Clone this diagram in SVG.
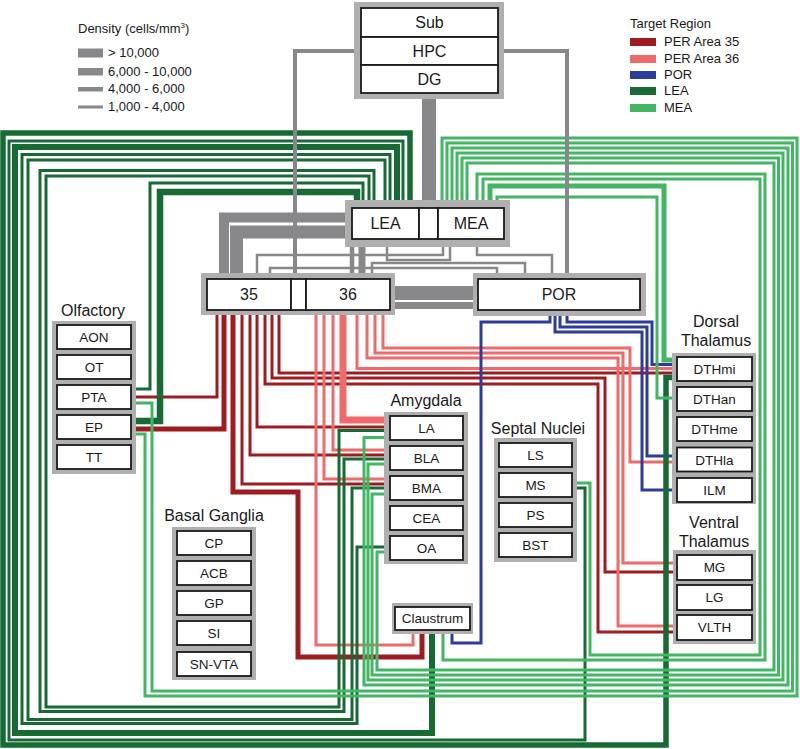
<svg xmlns="http://www.w3.org/2000/svg" width="800" height="749" viewBox="0 0 800 749">
<style>
text{font-family:"Liberation Sans",Arial,sans-serif;fill:#1a1a1a}
.halo{fill:#afafaf}
.box{fill:#fff;stroke:#1a1a1a;stroke-width:1.8}
.lbl{font-size:13.5px;text-anchor:middle}
.big{font-size:16px;text-anchor:middle}
.grp{font-size:16px;text-anchor:middle}
.leg{font-size:13px}
path{fill:none;stroke-width:3}
.r35{stroke:#9e1c20}
.r36{stroke:#f06a6a}
.por{stroke:#2b3c9a}
.lea{stroke:#176a34}
.mea{stroke:#43b663}
.gr{stroke:#88888b}
.blob{fill:#88888b}
</style>

<g id="connectors">
<g id="per35-lines">
<path class="r35" d="M217,310 V397 H130"/>
<path class="r35" style="stroke-width:5" d="M224,310 V429 H130"/>
<path class="r35" style="stroke-width:5" d="M233,310 V492 H298 V657 H422 V630"/>
<path class="r35" d="M242,310 V484 H390"/>
<path class="r35" d="M250,310 V455 H390"/>
<path class="r35" d="M257,310 V427 H390"/>
<path class="r35" d="M265,310 V384 H598 V632 H677"/>
<path class="r35" d="M272,310 V378 H605 V572 H677"/>
<path class="r35" d="M279,310 V373 H677"/>
</g>
<g id="per36-lines">
<path class="r36" d="M316,310 V645 H413 V630"/>
<path class="r36" d="M324,310 V479 H390"/>
<path class="r36" d="M333,310 V450 H390"/>
<path class="r36" style="stroke-width:7" d="M343,310 V420 H390"/>
<path class="r36" d="M357,310 V368.5 H677"/>
<path class="r36" d="M367,310 V358 H618 V626 H677"/>
<path class="r36" d="M375,310 V353 H623 V563 H677"/>
<path class="r36" d="M383,310 V348 H630 V462 H677"/>
</g>
<g id="por-lines">
<path class="por" d="M550,310 V322 H481 V643 H452 V630"/>
<path class="por" d="M567,310 V322 H652 V364.5 H677"/>
<path class="por" d="M560,310 V327 H647 V456 H677"/>
<path class="por" d="M555,310 V332 H642 V490 H677"/>
</g>
<g id="lea-lines">
<path class="lea" style="stroke-width:6.5" d="M357,208 V192 H160 V421 H130"/>
<path class="lea" d="M363,208 V183 H150 V389 H130"/>
<path class="lea" d="M369,208 V176 H46 V707 H339 V430.5 H390"/>
<path class="lea" d="M374,208 V170.5 H40 V711.5 H344 V459 H390"/>
<path class="lea" d="M385,208 V160 H28 V719.5 H352 V488 H390"/>
<path class="lea" d="M390,208 V154.5 H22 V723.5 H357 V547 H390"/>
<path class="lea" style="stroke-width:6" d="M397,208 V147 H15 V733 H432 V630"/>
<path class="lea" d="M403,208 V141 H9 V740 H585 V488 H572"/>
<path class="lea" style="stroke-width:5.5" d="M410,208 V133 H3 V745 H666 V377.5 H677"/>
</g>
<g id="mea-lines">
<path class="mea" d="M442,208 V138 H797 V696 H145 V434 H130"/>
<path class="mea" d="M447,208 V143 H792.5 V691 H152 V403 H130"/>
<path class="mea" d="M452,208 V148 H788 V685 H364 V437.5 H390"/>
<path class="mea" d="M457,208 V153 H783 V680 H368 V464 H390"/>
<path class="mea" d="M462,208 V158 H778.5 V675 H372 V494 H390"/>
<path class="mea" d="M467,208 V163 H774 V670 H377 V552 H390"/>
<path class="mea" d="M477,208 V174 H765 V660 H443 V630"/>
<path class="mea" d="M483,208 V179 H760 V655 H590 V483 H572"/>
<path class="mea" style="stroke-width:5" d="M490,208 V186 H664 V360 H677"/>
<path class="mea" d="M497,208 V197 H657 V398 H677"/>
</g>
<g id="density-lines">
<path class="gr" style="stroke-width:14" d="M429,99 V208"/>
<path class="gr" style="stroke-width:4" d="M354,51 H295 V279"/>
<path class="gr" style="stroke-width:4" d="M504,51 H567 V279"/>
<path class="gr" style="stroke-width:10" d="M357,217.5 H224 V273"/>
<circle class="blob" cx="357" cy="217.5" r="6.5"/>
<path class="gr" style="stroke-width:13" d="M352,232 H236.5 V282"/>
<circle class="blob" cx="236.5" cy="282" r="7.5"/>
<path class="gr" style="stroke-width:7" d="M362,279 V237"/>
<circle class="blob" cx="362" cy="237" r="5.5"/>
<path class="gr" style="stroke-width:4.5" d="M352,247 V282"/>
<circle class="blob" cx="352" cy="282" r="4.5"/>
<path class="gr" style="stroke-width:14" d="M390,293 H485"/>
<circle class="blob" cx="485" cy="293" r="8"/>
<path class="gr" style="stroke-width:7" d="M390,305.5 H478"/>
<path class="gr" style="stroke-width:2.5" d="M257,279 V255 H443 V239"/>
<path class="gr" style="stroke-width:2.5" d="M270,279 V268 H497 V279"/>
<path class="gr" style="stroke-width:2.5" d="M372,279 V263 H525 V279"/>
<path class="gr" style="stroke-width:2.5" d="M387,239 V260 H450 V239"/>
<path class="gr" style="stroke-width:2.5" d="M477,239 V255 H552 V279"/>
</g>
</g>

<g id="legend-density">
<text class="leg" x="78" y="33">Density (cells/mm<tspan dy="-5" font-size="8">3</tspan><tspan dy="5">)</tspan></text>
<rect x="78" y="48.5" width="25" height="9" fill="#88888b"/>
<rect x="78" y="68" width="25" height="7.5" fill="#88888b"/>
<rect x="78" y="87" width="25" height="4.5" fill="#88888b"/>
<rect x="78" y="105.5" width="25" height="3" fill="#88888b"/>
<text class="leg" x="108" y="57">&gt; 10,000</text>
<text class="leg" x="108" y="75.5">6,000 - 10,000</text>
<text class="leg" x="108" y="93">4,000 - 6,000</text>
<text class="leg" x="108" y="111">1,000 - 4,000</text>
</g>

<g id="legend-target">
<text class="leg" x="630" y="28">Target Region</text>
<rect x="630" y="38" width="26" height="8" fill="#9e1c20"/>
<rect x="630" y="55" width="26" height="8" fill="#f06a6a"/>
<rect x="630" y="71" width="26" height="8" fill="#2b3c9a"/>
<rect x="630" y="87" width="26" height="8" fill="#176a34"/>
<rect x="630" y="104" width="26" height="8" fill="#43b663"/>
<text class="leg" x="664" y="46">PER Area 35</text>
<text class="leg" x="664" y="63">PER Area 36</text>
<text class="leg" x="664" y="79">POR</text>
<text class="leg" x="664" y="95">LEA</text>
<text class="leg" x="664" y="112">MEA</text>
</g>

<g id="hippocampus">
<rect class="halo" x="354" y="2" width="150" height="97"/>
<g id="node-sub"><rect class="box" x="361" y="8" width="137" height="29"/><text class="big" x="429.5" y="28">Sub</text></g>
<g id="node-hpc"><rect class="box" x="361" y="37" width="137" height="28"/><text class="big" x="429.5" y="57">HPC</text></g>
<g id="node-dg"><rect class="box" x="361" y="65" width="137" height="28"/><text class="big" x="429.5" y="85">DG</text></g>
</g>

<g id="entorhinal">
<rect class="halo" x="345" y="200" width="165" height="47"/>
<g id="node-lea"><rect class="box" x="352" y="208" width="67" height="31"/><text class="big" x="385.5" y="229">LEA</text></g>
<g id="node-ec-gap"><rect class="box" x="419" y="208" width="19" height="31"/></g>
<g id="node-mea"><rect class="box" x="438" y="208" width="66" height="31"/><text class="big" x="471" y="229">MEA</text></g>
</g>

<g id="perirhinal">
<rect class="halo" x="201" y="273" width="194" height="42"/>
<g id="node-35"><rect class="box" x="207" y="279" width="84" height="31"/><text class="big" x="249" y="300">35</text></g>
<g id="node-per-gap"><rect class="box" x="291" y="279" width="15" height="31"/></g>
<g id="node-36"><rect class="box" x="306" y="279" width="84" height="31"/><text class="big" x="348" y="300">36</text></g>
</g>

<g id="node-por">
<rect class="halo" x="473" y="273" width="173" height="43"/>
<rect class="box" x="478" y="279" width="162" height="31"/>
<text class="big" x="559" y="300">POR</text>
</g>

<g id="olfactory">
<text class="grp" x="93" y="316">Olfactory</text>
<rect class="halo" x="52" y="321" width="84" height="153"/>
<g id="node-aon"><rect class="box" x="57" y="325" width="74" height="24"/><text class="lbl" x="94" y="342">AON</text></g>
<g id="node-ot"><rect class="box" x="57" y="355" width="74" height="24"/><text class="lbl" x="94" y="372">OT</text></g>
<g id="node-pta"><rect class="box" x="57" y="385" width="74" height="24"/><text class="lbl" x="94" y="402">PTA</text></g>
<g id="node-ep"><rect class="box" x="57" y="415" width="74" height="24"/><text class="lbl" x="94" y="432">EP</text></g>
<g id="node-tt"><rect class="box" x="57" y="445" width="74" height="24"/><text class="lbl" x="94" y="462">TT</text></g>
</g>

<g id="amygdala">
<text class="grp" x="426" y="406">Amygdala</text>
<rect class="halo" x="384" y="412" width="84" height="152"/>
<g id="node-la"><rect class="box" x="390" y="416" width="73" height="24"/><text class="lbl" x="426.5" y="433">LA</text></g>
<g id="node-bla"><rect class="box" x="390" y="446" width="73" height="24"/><text class="lbl" x="426.5" y="463">BLA</text></g>
<g id="node-bma"><rect class="box" x="390" y="476" width="73" height="24"/><text class="lbl" x="426.5" y="493">BMA</text></g>
<g id="node-cea"><rect class="box" x="390" y="506" width="73" height="24"/><text class="lbl" x="426.5" y="523">CEA</text></g>
<g id="node-oa"><rect class="box" x="390" y="536" width="73" height="24"/><text class="lbl" x="426.5" y="553">OA</text></g>
</g>

<g id="septal">
<text class="grp" x="538" y="434">Septal Nuclei</text>
<rect class="halo" x="494" y="438" width="83" height="124"/>
<g id="node-ls"><rect class="box" x="499" y="443" width="73" height="24"/><text class="lbl" x="535.5" y="460">LS</text></g>
<g id="node-ms"><rect class="box" x="499" y="473" width="73" height="24"/><text class="lbl" x="535.5" y="490">MS</text></g>
<g id="node-ps"><rect class="box" x="499" y="503" width="73" height="24"/><text class="lbl" x="535.5" y="520">PS</text></g>
<g id="node-bst"><rect class="box" x="499" y="533" width="73" height="24"/><text class="lbl" x="535.5" y="550">BST</text></g>
</g>

<g id="dorsal-thalamus">
<text class="grp" x="716" y="327">Dorsal</text>
<text class="grp" x="716" y="346">Thalamus</text>
<rect class="halo" x="672" y="353" width="84" height="151"/>
<g id="node-dthmi"><rect class="box" x="677" y="357" width="75" height="24"/><text class="lbl" x="714.5" y="374">DTHmi</text></g>
<g id="node-dthan"><rect class="box" x="677" y="387" width="75" height="24"/><text class="lbl" x="714.5" y="404">DTHan</text></g>
<g id="node-dthme"><rect class="box" x="677" y="417" width="75" height="24"/><text class="lbl" x="714.5" y="434">DTHme</text></g>
<g id="node-dthla"><rect class="box" x="677" y="447.5" width="75" height="24"/><text class="lbl" x="714.5" y="464.5">DTHla</text></g>
<g id="node-ilm"><rect class="box" x="677" y="478" width="75" height="24"/><text class="lbl" x="714.5" y="495">ILM</text></g>
</g>

<g id="ventral-thalamus">
<text class="grp" x="714" y="528">Ventral</text>
<text class="grp" x="714" y="547">Thalamus</text>
<rect class="halo" x="673" y="550" width="83" height="94"/>
<g id="node-mg"><rect class="box" x="677" y="555" width="75" height="25"/><text class="lbl" x="714.5" y="572">MG</text></g>
<g id="node-lg"><rect class="box" x="677" y="585" width="75" height="25"/><text class="lbl" x="714.5" y="602">LG</text></g>
<g id="node-vlth"><rect class="box" x="677" y="615" width="75" height="25"/><text class="lbl" x="714.5" y="632">VLTH</text></g>
</g>

<g id="basal-ganglia">
<text class="grp" x="214" y="521">Basal Ganglia</text>
<rect class="halo" x="172" y="527" width="84" height="153"/>
<g id="node-cp"><rect class="box" x="177" y="531" width="74" height="24"/><text class="lbl" x="214" y="548">CP</text></g>
<g id="node-acb"><rect class="box" x="177" y="561" width="74" height="24"/><text class="lbl" x="214" y="578">ACB</text></g>
<g id="node-gp"><rect class="box" x="177" y="591" width="74" height="24"/><text class="lbl" x="214" y="608">GP</text></g>
<g id="node-si"><rect class="box" x="177" y="621" width="74" height="24"/><text class="lbl" x="214" y="638">SI</text></g>
<g id="node-snvta"><rect class="box" x="177" y="652" width="74" height="24"/><text class="lbl" x="214" y="669">SN-VTA</text></g>
</g>

<g id="node-claustrum">
<rect class="halo" x="392" y="603" width="81" height="31"/>
<rect class="box" x="395" y="607" width="75" height="23"/>
<text class="lbl" x="432.5" y="623">Claustrum</text>
</g>
</svg>
